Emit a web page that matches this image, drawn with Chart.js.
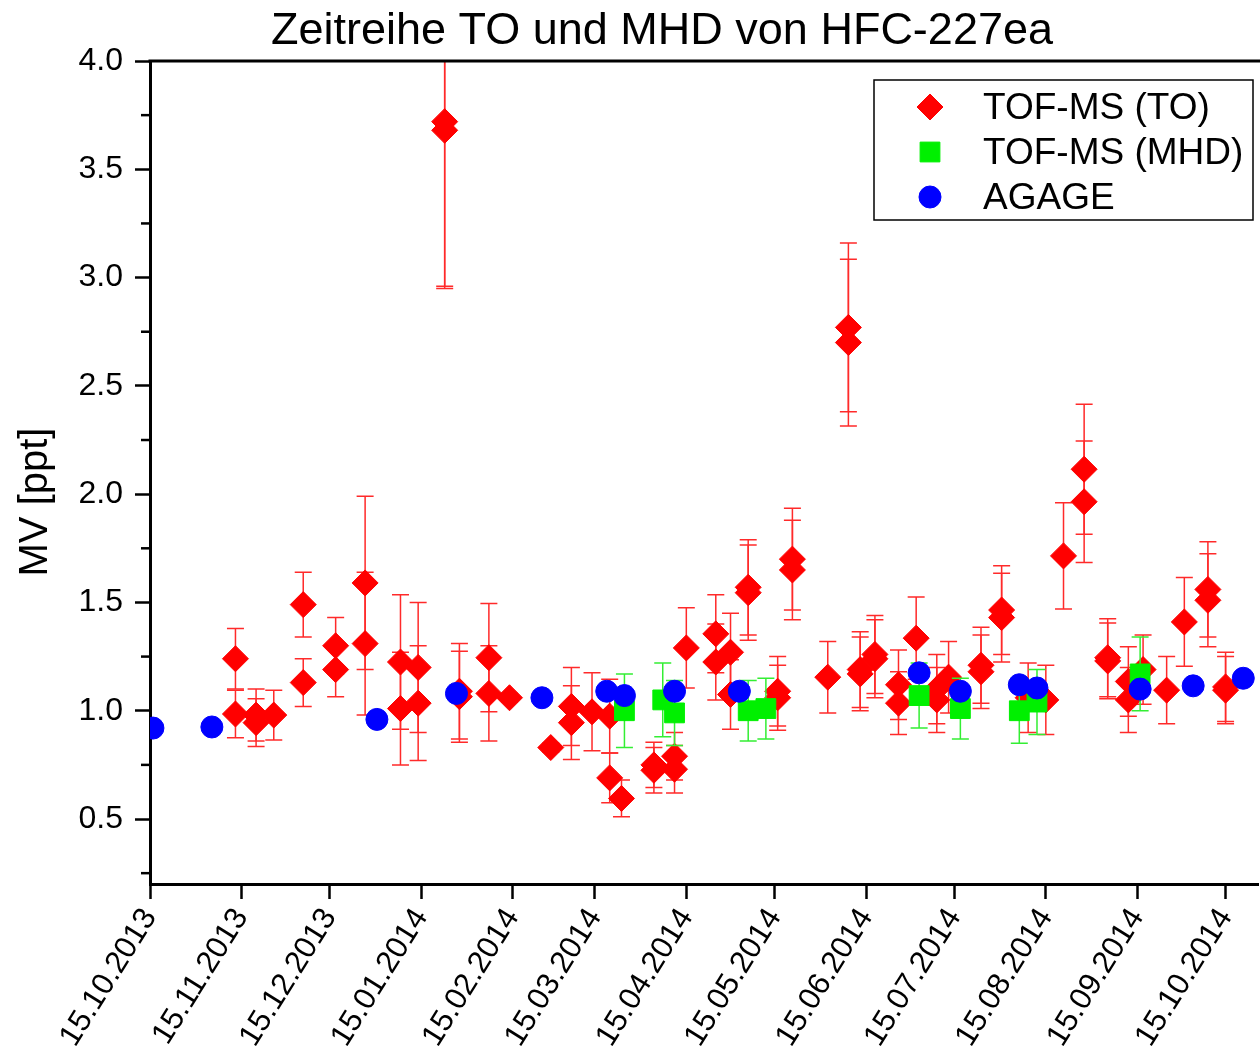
<!DOCTYPE html>
<html>
<head>
<meta charset="utf-8">
<title>Zeitreihe TO und MHD von HFC-227ea</title>
<script src="https://cdn.jsdelivr.net/npm/chart.js@4.4.1/dist/chart.umd.min.js"></script>
<style>
  html, body { margin: 0; padding: 0; background: #fff; }
  #wrap { width: 1260px; height: 1058px; }
</style>
</head>
<body>
<div id="wrap"><canvas id="hfcChart" width="1260" height="1058"></canvas></div>
<script>
// --- data (dd.mm.yyyy, mixing ratio in ppt) ---
const START_DATE = '15.10.2013';
const END_DATE = '26.10.2014';

const tickDates = ['15.10.2013', '15.11.2013', '15.12.2013', '15.01.2014', '15.02.2014',
  '15.03.2014', '15.04.2014', '15.05.2014', '15.06.2014', '15.07.2014', '15.08.2014',
  '15.09.2014', '15.10.2014'];
const yTickValues = [0.5, 1.0, 1.5, 2.0, 2.5, 3.0, 3.5, 4.0];
const yMinorValues = [0.25, 0.75, 1.25, 1.75, 2.25, 2.75, 3.25, 3.75];

// TOF-MS, Taunus Observatorium
const toDates = ['13.11.2013', '13.11.2013', '20.11.2013', '20.11.2013', '26.11.2013',
  '06.12.2013', '06.12.2013', '17.12.2013', '17.12.2013', '27.12.2013', '27.12.2013',
  '08.01.2014', '08.01.2014', '14.01.2014', '14.01.2014', '23.01.2014', '23.01.2014',
  '28.01.2014', '28.01.2014', '07.02.2014', '07.02.2014', '14.02.2014', '28.02.2014',
  '07.03.2014', '07.03.2014', '14.03.2014', '20.03.2014', '20.03.2014', '24.03.2014',
  '04.04.2014', '04.04.2014', '11.04.2014', '11.04.2014', '15.04.2014', '25.04.2014',
  '25.04.2014', '30.04.2014', '30.04.2014', '06.05.2014', '06.05.2014', '16.05.2014',
  '16.05.2014', '21.05.2014', '21.05.2014', '02.06.2014', '09.06.2014', '09.06.2014',
  '13.06.2014', '13.06.2014', '18.06.2014', '18.06.2014', '26.06.2014', '26.06.2014',
  '02.07.2014', '09.07.2014', '09.07.2014', '13.07.2014', '24.07.2014', '24.07.2014',
  '31.07.2014', '31.07.2014', '09.08.2014', '15.08.2014', '21.08.2014', '28.08.2014',
  '28.08.2014', '05.09.2014', '05.09.2014', '12.09.2014', '12.09.2014', '17.09.2014',
  '25.09.2014', '01.10.2014', '09.10.2014', '09.10.2014', '15.10.2014', '15.10.2014'];
const toValues = [1.24, 0.985, 0.98, 0.945, 0.98,
  1.49, 1.13, 1.30, 1.19, 1.59, 1.31,
  1.225, 1.01, 1.20, 1.035, 3.72, 3.68,
  1.09, 1.065, 1.245, 1.08, 1.06, 0.83,
  1.02, 0.945, 0.995, 0.975, 0.69, 0.595,
  0.75, 0.725, 0.79, 0.73, 1.29, 1.355,
  1.225, 1.27, 1.075, 1.57, 1.545, 1.09,
  1.06, 1.70, 1.65, 1.155, 2.77, 2.70,
  1.19, 1.17, 1.26, 1.24, 1.12, 1.035,
  1.335, 1.10, 1.05, 1.155, 1.21, 1.18,
  1.465, 1.43, 1.06, 1.05, 1.715, 2.115,
  1.965, 1.245, 1.23, 1.135, 1.05, 1.19,
  1.095, 1.41, 1.56, 1.51, 1.11, 1.095];
const toErrors = [0.14, 0.11, 0.12, 0.11, 0.115,
  0.15, 0.11, 0.13, 0.125, 0.40, 0.33,
  0.31, 0.26, 0.30, 0.265, 0.76, 0.73,
  0.22, 0.21, 0.25, 0.22, 0.02, 0.02,
  0.18, 0.17, 0.18, 0.17, 0.115, 0.085,
  0.105, 0.105, 0.11, 0.11, 0.185, 0.18,
  0.175, 0.18, 0.16, 0.22, 0.22, 0.16,
  0.15, 0.235, 0.23, 0.165, 0.39, 0.385,
  0.175, 0.17, 0.18, 0.18, 0.16, 0.145,
  0.19, 0.16, 0.15, 0.165, 0.175, 0.17,
  0.205, 0.205, 0.16, 0.16, 0.245, 0.30,
  0.28, 0.18, 0.175, 0.16, 0.15, 0.16,
  0.155, 0.205, 0.22, 0.215, 0.16, 0.155];

// TOF-MS, Mace Head
const mhdDates = ['25.03.2014', '07.04.2014', '11.04.2014', '06.05.2014', '12.05.2014',
  '03.07.2014', '17.07.2014', '06.08.2014', '12.08.2014', '16.09.2014'];
const mhdValues = [1.00, 1.05, 0.99, 1.00, 1.01, 1.07, 1.01, 1.00, 1.04, 1.17];
const mhdErrors = [0.17, 0.17, 0.15, 0.14, 0.14, 0.15, 0.14, 0.15, 0.15, 0.17];

// AGAGE, Mace Head
const agageDates = ['16.10.2013', '05.11.2013', '31.12.2013', '27.01.2014', '25.02.2014',
  '19.03.2014', '25.03.2014', '11.04.2014', '03.05.2014', '03.07.2014', '17.07.2014',
  '06.08.2014', '12.08.2014', '16.09.2014', '04.10.2014', '21.10.2014'];
const agageValues = [0.92, 0.925, 0.96, 1.08, 1.06, 1.09, 1.07, 1.09, 1.09, 1.175, 1.09,
  1.12, 1.105, 1.10, 1.115, 1.15];

const FONT = "'Liberation Sans', Arial, sans-serif";
const RED = '#ff0000';
const GREEN = '#00f000';
const BLUE = '#0000ff';

// days since START_DATE
function dayOf(str) {
  const [d, m, y] = str.split('.').map(Number);
  const [d0, m0, y0] = START_DATE.split('.').map(Number);
  return (Date.UTC(y, m - 1, d) - Date.UTC(y0, m0 - 1, d0)) / 86400000;
}

function toPoints(dates, values) {
  return dates.map((d, i) => ({ x: dayOf(d), y: values[i] }));
}

const tickLabelByDay = {};
tickDates.forEach(d => { tickLabelByDay[dayOf(d)] = d; });

// error bars, minor ticks, frame, title and legend
const extras = {
  id: 'extras',
  beforeDatasetDraw(chart, args) {
    const ds = chart.data.datasets[args.index];
    if (!ds.errors) return;
    const { ctx, chartArea: a } = chart;
    const xs = chart.scales.x, ys = chart.scales.y;
    ctx.save();
    ctx.beginPath();
    ctx.rect(a.left, a.top, a.right - a.left, a.bottom - a.top);
    ctx.clip();
    ctx.strokeStyle = ds.errorColor;
    ctx.lineWidth = 1.5;
    ds.data.forEach((p, i) => {
      const e = ds.errors[i];
      const x = xs.getPixelForValue(p.x);
      const yHi = ys.getPixelForValue(p.y + e);
      const yLo = ys.getPixelForValue(p.y - e);
      ctx.beginPath();
      ctx.moveTo(x, yHi); ctx.lineTo(x, yLo);
      ctx.moveTo(x - 8.5, yHi); ctx.lineTo(x + 8.5, yHi);
      ctx.moveTo(x - 8.5, yLo); ctx.lineTo(x + 8.5, yLo);
      ctx.stroke();
    });
    ctx.restore();
  },
  afterDraw(chart) {
    const { ctx, chartArea: a } = chart;
    const ys = chart.scales.y;
    ctx.save();

    // top frame line
    ctx.strokeStyle = '#000';
    ctx.lineWidth = 3;
    ctx.beginPath();
    ctx.moveTo(a.left - 1.5, a.top);
    ctx.lineTo(chart.width, a.top);
    ctx.stroke();

    // minor y ticks
    ctx.lineWidth = 2.5;
    yMinorValues.forEach(v => {
      const y = ys.getPixelForValue(v);
      ctx.beginPath();
      ctx.moveTo(a.left - 9, y);
      ctx.lineTo(a.left, y);
      ctx.stroke();
    });

    // title
    ctx.fillStyle = '#000';
    ctx.font = '45px ' + FONT;
    ctx.textAlign = 'center';
    ctx.textBaseline = 'alphabetic';
    ctx.fillText('Zeitreihe TO und MHD von HFC-227ea', 662, 44);

    // y axis title
    ctx.save();
    ctx.translate(47, 502);
    ctx.rotate(-Math.PI / 2);
    ctx.font = '40px ' + FONT;
    ctx.fillText('MV [ppt]', 0, 0);
    ctx.restore();

    // legend box
    const bx = a.right - 384, by = a.top + 19, bw = 379, bh = 140;
    ctx.fillStyle = '#fff';
    ctx.fillRect(bx, by, bw, bh);
    ctx.strokeStyle = '#000';
    ctx.lineWidth = 1.5;
    ctx.strokeRect(bx, by, bw, bh);
    const entries = chart.data.datasets.slice().reverse();
    ctx.font = '37px ' + FONT;
    ctx.textAlign = 'left';
    ctx.textBaseline = 'middle';
    entries.forEach((ds, i) => {
      const cy = by + 27 + i * 45;
      ctx.fillStyle = ds.backgroundColor;
      ctx.strokeStyle = ds.borderColor;
      ctx.lineWidth = 1;
      Chart.helpers.drawPoint(ctx, {
        pointStyle: ds.pointStyle, radius: ds.pointRadius, rotation: 0, borderWidth: 1
      }, bx + 56, cy);
      ctx.fillStyle = '#000';
      ctx.fillText(ds.label, bx + 109, cy + 2);
    });
    ctx.restore();
  }
};

Chart.defaults.font.family = FONT;
Chart.defaults.color = '#000';

new Chart(document.getElementById('hfcChart'), {
  type: 'scatter',
  data: {
    // first dataset is drawn on top
    datasets: [
      {
        label: 'AGAGE',
        data: toPoints(agageDates, agageValues),
        pointStyle: 'circle',
        pointRadius: 11,
        backgroundColor: BLUE,
        borderColor: BLUE,
        borderWidth: 1
      },
      {
        label: 'TOF-MS (MHD)',
        data: toPoints(mhdDates, mhdValues),
        errors: mhdErrors,
        errorColor: '#33ee33',
        pointStyle: 'rect',
        pointRadius: 14,
        backgroundColor: GREEN,
        borderColor: GREEN,
        borderWidth: 1
      },
      {
        label: 'TOF-MS (TO)',
        data: toPoints(toDates, toValues),
        errors: toErrors,
        errorColor: '#ff2a2a',
        pointStyle: 'rectRot',
        pointRadius: 13,
        backgroundColor: RED,
        borderColor: RED,
        borderWidth: 1
      }
    ]
  },
  options: {
    responsive: false,
    animation: false,
    events: [],
    layout: { autoPadding: false, padding: { top: 61, right: 2, left: 0, bottom: 0 } },
    plugins: {
      legend: { display: false },
      title: { display: false },
      tooltip: { enabled: false }
    },
    scales: {
      x: {
        type: 'linear',
        min: 0,
        max: dayOf(END_DATE),
        afterBuildTicks: scale => {
          scale.ticks = tickDates.map(d => ({ value: dayOf(d) }));
        },
        afterFit: scale => {
          scale.height = 174;
          scale.paddingLeft = 0;
          scale.paddingRight = 0;
        },
        grid: { drawOnChartArea: false, tickLength: 15, tickWidth: 2.5, tickColor: '#000' },
        border: { color: '#000', width: 3 },
        ticks: {
          autoSkip: false,
          minRotation: 58,
          maxRotation: 58,
          padding: 3,
          font: { size: 31 },
          callback: v => tickLabelByDay[v] || ''
        }
      },
      y: {
        min: 0.2,
        max: 4.0,
        afterBuildTicks: scale => {
          scale.ticks = yTickValues.map(v => ({ value: v }));
        },
        afterFit: scale => {
          scale.width = 150;
          scale.paddingTop = 0;
          scale.paddingBottom = 0;
        },
        grid: { drawOnChartArea: false, tickLength: 15, tickWidth: 2.5, tickColor: '#000' },
        border: { color: '#000', width: 3 },
        ticks: {
          padding: 12,
          font: { size: 32 },
          callback: v => v.toFixed(1)
        }
      }
    }
  },
  plugins: [extras]
});
</script>
</body>
</html>
